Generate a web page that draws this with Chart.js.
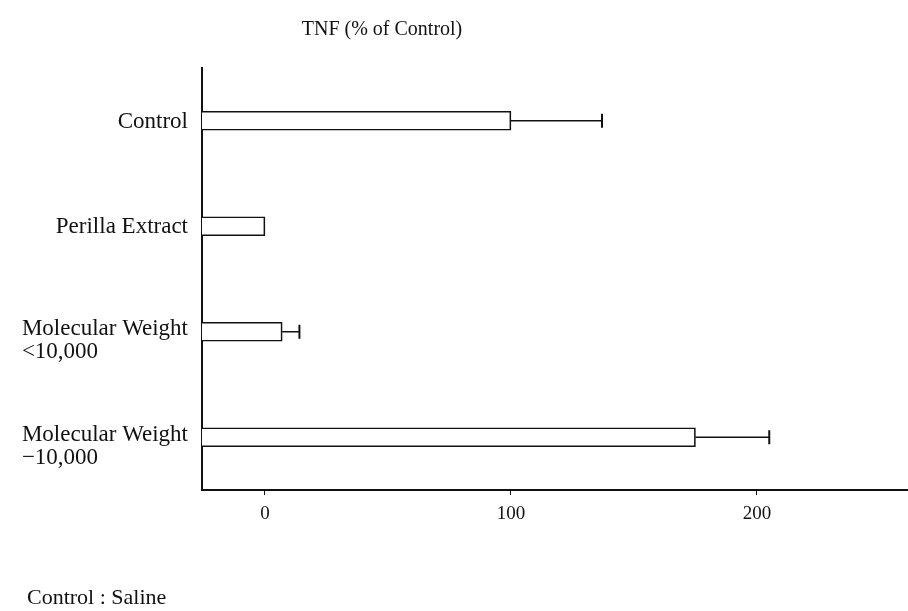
<!DOCTYPE html>
<html>
<head>
<meta charset="utf-8">
<title>TNF (% of Control)</title>
<script src="https://cdn.jsdelivr.net/npm/chart.js@4.4.1/dist/chart.umd.min.js"></script>
<style>
  html, body { margin: 0; padding: 0; background: #ffffff; }
  #wrap { position: relative; width: 908px; height: 611px; }
</style>
</head>
<body>
<div id="wrap"><canvas id="tnfChart" width="908" height="611"></canvas></div>
<script>
// Chart data
const categories = [
  ['Control'],
  ['Perilla Extract'],
  ['Molecular Weight', '<10,000'],
  ['Molecular Weight', '\u221210,000']
];
const tnfValues = [100, 0, 7, 175];
const tnfErrors = [37, 0, 7, 30];
const xTicks = [0, 100, 200];
const xMin = -25.6;
const xMax = 261.4;

const chartTitle = 'TNF (% of Control)';
const footNote = 'Control : Saline';

const serif = '"Liberation Serif", "DejaVu Serif", serif';
const ink = '#111111';

/**
 * Draw error whiskers to the right of each bar (value -> value + error)
 */
const errorBarPlugin = {
  id: 'errorBars',
  afterDatasetsDraw(chart) {
    const ctx = chart.ctx;
    const xScale = chart.scales.x;
    const meta = chart.getDatasetMeta(0);
    ctx.save();
    ctx.strokeStyle = ink;
    ctx.lineWidth = 1.5;
    meta.data.forEach((bar, i) => {
      const err = tnfErrors[i];
      if (!err) return;
      const x0 = xScale.getPixelForValue(tnfValues[i]);
      const x1 = xScale.getPixelForValue(tnfValues[i] + err);
      const y = bar.y;
      ctx.beginPath();
      ctx.moveTo(x0, y);
      ctx.lineTo(x1, y);
      ctx.stroke();
      ctx.lineWidth = 2;
      ctx.beginPath();
      ctx.moveTo(x1, y - 7);
      ctx.lineTo(x1, y + 7);
      ctx.stroke();
      ctx.lineWidth = 1.5;
    });
    ctx.restore();
  }
};

/**
 * Category labels: first line right-aligned to the axis,
 * following lines start where the first one starts
 */
const categoryLabelPlugin = {
  id: 'categoryLabels',
  afterDraw(chart) {
    const ctx = chart.ctx;
    const yScale = chart.scales.y;
    const rightEdge = chart.chartArea.left - 14;
    const lineHeight = 23;
    ctx.save();
    ctx.fillStyle = ink;
    ctx.font = '23px ' + serif;
    ctx.textBaseline = 'middle';
    categories.forEach((lines, i) => {
      const cy = yScale.getPixelForValue(i);
      const firstWidth = ctx.measureText(lines[0]).width;
      const left = rightEdge - firstWidth;
      const shift = lines.length > 1 ? 9 : 1;
      const top = cy - (lines.length - 1) * lineHeight / 2 + shift;
      lines.forEach((text, j) => {
        ctx.textAlign = 'left';
        ctx.fillText(text, left, top + j * lineHeight);
      });
    });

    // title and note
    ctx.font = '20px ' + serif;
    ctx.textAlign = 'center';
    ctx.fillText(chartTitle, 382, 30);
    ctx.font = '22px ' + serif;
    ctx.textAlign = 'left';
    ctx.fillText(footNote, 27, 598);
    ctx.restore();
  }
};

function createTnfChart(chartId) {
  const ctx = document.getElementById(chartId).getContext('2d');

  return new Chart(ctx, {
    type: 'bar',
    data: {
      labels: categories.map(c => c.join(' ')),
      datasets: [{
        label: 'TNF',
        data: tnfValues,
        base: xMin,
        backgroundColor: '#ffffff',
        borderColor: ink,
        borderWidth: 1.7,
        barThickness: 19
      }]
    },
    options: {
      indexAxis: 'y',
      responsive: false,
      animation: false,
      layout: {
        padding: { left: 202, right: 0, top: 68, bottom: 71 }
      },
      scales: {
        x: {
          type: 'linear',
          min: xMin,
          max: xMax,
          afterBuildTicks: scale => {
            scale.ticks = xTicks.map(v => ({ value: v }));
          },
          afterFit: scale => { scale.height = 50; },
          border: { display: true, color: ink, width: 2 },
          grid: {
            display: true,
            drawOnChartArea: false,
            drawTicks: true,
            tickLength: 5,
            color: ink,
            lineWidth: 1
          },
          ticks: {
            color: ink,
            padding: 8,
            font: { family: serif, size: 19 }
          }
        },
        y: {
          type: 'category',
          offset: true,
          afterFit: scale => { scale.width = 0; },
          border: { display: true, color: ink, width: 2 },
          grid: { display: false },
          ticks: { display: false }
        }
      },
      plugins: {
        legend: { display: false },
        tooltip: { enabled: false },
        title: { display: false }
      }
    },
    plugins: [errorBarPlugin, categoryLabelPlugin]
  });
}

createTnfChart('tnfChart');
</script>
</body>
</html>
